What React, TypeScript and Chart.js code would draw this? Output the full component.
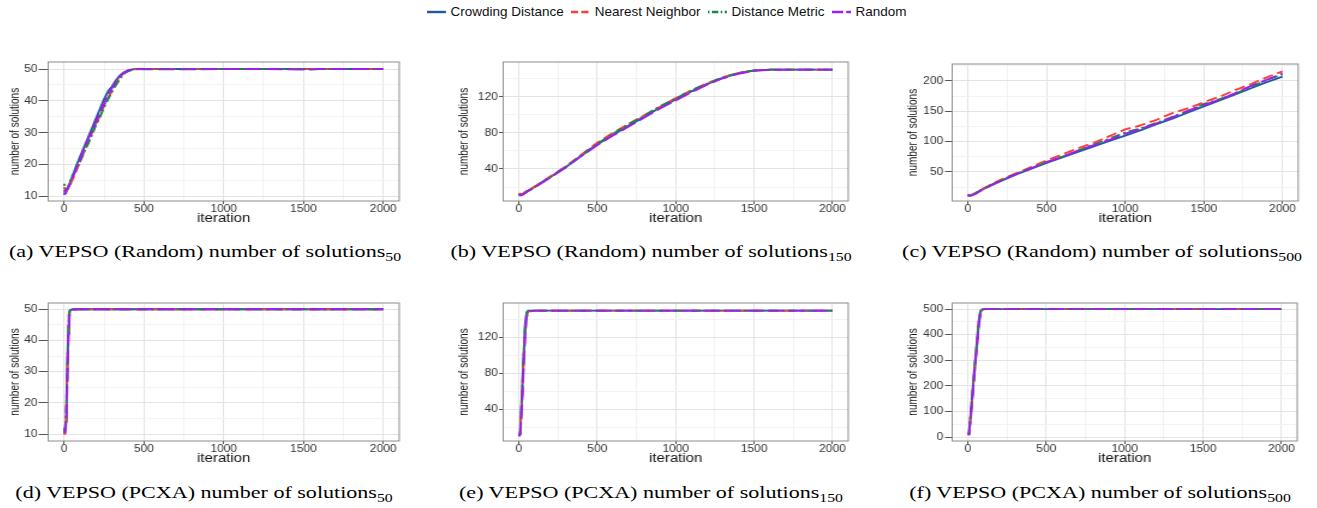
import React, { useEffect, useRef } from 'react';
import { Chart, registerables } from 'chart.js';

Chart.register(...registerables);

const SANS = '"Liberation Sans", Arial, Helvetica, sans-serif';
const SERIF = '"Liberation Serif", "Times New Roman", Times, serif';

// Series shared by every panel
const SERIES_NAMES = ['Crowding Distance', 'Nearest Neighbor', 'Distance Metric', 'Random'];
const SERIES_COLORS = ['#1f5aa0', '#ff3b3b', '#16884a', '#9a20ea'];
const SERIES_DASHES: number[][] = [[], [9, 4], [2, 3, 8, 3], [14, 4]];

// Iteration axis: grid every 250, labels every 500
const ITERATION_TICKS = [0, 250, 500, 750, 1000, 1250, 1500, 1750, 2000];
const ITERATION_LABELS = [0, 500, 1000, 1500, 2000];

// (a) VEPSO (Random), archive of 50
const iterA = [0, 10, 25, 50, 75, 100, 125, 150, 175, 200, 225, 250, 275, 300, 325, 350, 375, 400, 425, 450, 500, 750, 1000, 1250, 1500, 1550, 1600, 1750, 2000];
const cdA = [12, 11, 13, 16, 19.5, 22.5, 25.5, 28.5, 31.5, 34.5, 37.5, 40.5, 43, 44.5, 46.5, 48, 49, 49.6, 49.9, 50, 50, 50, 50, 50, 50, 50, 50, 50, 50];
const nnA = [13, 11.5, 12.5, 15, 18, 21, 24, 27, 30, 32.5, 35.5, 38.5, 41, 43, 45.5, 47.5, 48.8, 49.5, 49.8, 50, 50, 50, 50, 50, 50, 50, 50, 50, 50];
const dmA = [14, 12, 13, 16.5, 18.5, 21, 24, 26.5, 29.5, 32.5, 35, 38, 40.5, 43, 45, 47, 48.5, 49.3, 49.7, 49.9, 50, 50, 50, 50, 50, 50, 50, 50, 50];
const rdA = [10.5, 12, 12.5, 15.5, 18.5, 21.5, 25, 28, 30.5, 33.5, 36.5, 39, 42, 44, 46, 47.8, 48.8, 49.5, 49.8, 50, 49.9, 49.9, 50, 50, 49.8, 49.8, 50, 50, 50];

// (b) VEPSO (Random), archive of 150
const iterB = [0, 10, 25, 50, 100, 200, 300, 400, 500, 600, 700, 800, 900, 1000, 1100, 1200, 1300, 1400, 1500, 1600, 1700, 2000];
const cdB = [12, 11, 12, 15, 20, 31, 42, 55, 67, 78, 88, 98, 108, 117, 126, 134, 141, 146, 149, 150, 150, 150];
const nnB = [13, 12, 12.5, 15.5, 20.5, 31.5, 43, 56, 69, 80, 90, 99.5, 109, 118.5, 127, 135, 141.5, 146.5, 149.3, 150, 150, 150];
const dmB = [12.5, 11.5, 12, 15, 20, 31, 42.5, 55.5, 68, 79, 89.5, 99, 109.5, 118, 127, 134.5, 141.5, 146.5, 149.2, 150, 150, 150];
const rdB = [11.5, 10.5, 11.5, 14.5, 19.5, 30.5, 42, 54.5, 66.5, 77, 87, 97, 107, 116, 125, 133.5, 140.5, 145.5, 148.8, 149.8, 150, 150];

// (c) VEPSO (Random), archive of 500
const iterC = [0, 10, 25, 50, 100, 200, 300, 400, 500, 600, 700, 800, 900, 1000, 1100, 1200, 1300, 1400, 1500, 1600, 1700, 1800, 1900, 2000];
const cdC = [12, 11, 12, 15, 22, 34, 45, 55, 65, 74, 83, 92, 101, 110, 119, 129, 138, 148, 158, 168, 178, 188, 198, 207];
const nnC = [12, 11, 12, 15, 23, 36, 47, 58, 69, 79, 89, 98, 109, 120, 127, 136, 147, 155, 165, 174, 185, 195, 206, 216];
const dmC = [12.5, 11.5, 12, 15, 22.5, 35, 46, 56, 66, 75, 85, 95, 105, 115, 122, 131, 141, 150, 162, 170, 179, 190, 202, 211];
const rdC = [11, 10.5, 11, 14, 22, 34.5, 45.5, 56, 66, 75, 85, 94, 103, 113, 121, 130, 140, 151, 160, 169, 180, 192, 202, 212];

// (d) VEPSO (PCXA), archive of 50
const iterD = [0, 5, 10, 15, 20, 25, 30, 35, 40, 50, 60, 100, 500, 1000, 1500, 2000];
const cdD = [10, 11, 14, 22, 32, 42, 48.5, 49.5, 49.8, 50, 50, 50, 50, 50, 50, 50];
const nnD = [11, 10, 13, 20, 30, 40, 47, 49.3, 49.7, 49.9, 50, 50, 50, 50, 50, 50];
const dmD = [12, 11, 14, 21, 31, 41, 48, 49.4, 49.8, 50, 50, 50, 50, 50, 50, 50];
const rdD = [11.5, 10.5, 12, 18, 27, 37, 45, 48.5, 49.3, 49.7, 49.9, 50, 50, 50, 50, 50];

// (e) VEPSO (PCXA), archive of 150
const iterE = [0, 5, 10, 20, 30, 40, 50, 60, 80, 100, 500, 1000, 1500, 2000];
const cdE = [10, 12, 22, 58, 100, 135, 148, 150, 150, 150, 150, 150, 150, 150];
const nnE = [11, 11, 18, 50, 92, 128, 145, 149, 150, 150, 150, 150, 150, 150];
const dmE = [12, 12, 20, 54, 96, 132, 147, 150, 150, 150, 150, 150, 150, 150];
const rdE = [10.5, 10.5, 16, 45, 86, 123, 143, 148, 149.5, 150, 150, 150, 150, 150];

// (f) VEPSO (PCXA), archive of 500
const iterF = [0, 5, 10, 20, 30, 40, 50, 60, 70, 80, 90, 100, 120, 500, 1000, 1500, 2000];
const cdF = [10, 12, 35, 105, 180, 255, 320, 390, 455, 492, 499, 500, 500, 500, 500, 500, 500];
const nnF = [10, 11, 30, 95, 168, 243, 310, 378, 445, 487, 498, 500, 500, 500, 500, 500, 500];
const dmF = [10, 11.5, 33, 100, 175, 250, 315, 384, 450, 490, 499, 500, 500, 500, 500, 500, 500];
const rdF = [10, 11, 26, 88, 160, 235, 302, 370, 438, 482, 496, 499, 500, 500, 500, 500, 500];

// Y-axis grids (minor + major) and labelled values
const yGrid50 = [10, 15, 20, 25, 30, 35, 40, 45, 50];
const yLab50 = [10, 20, 30, 40, 50];
const yGrid150 = [20, 40, 60, 80, 100, 120, 140];
const yLab150 = [40, 80, 120];
const yGridRandom500 = [25, 50, 75, 100, 125, 150, 175, 200, 225];
const yLabRandom500 = [50, 100, 150, 200];
const yGridPcxa500 = [0, 50, 100, 150, 200, 250, 300, 350, 400, 450, 500];
const yLabPcxa500 = [0, 100, 200, 300, 400, 500];

const CAPTIONS = [
  { tag: '(a)', method: 'Random', size: '50' },
  { tag: '(b)', method: 'Random', size: '150' },
  { tag: '(c)', method: 'Random', size: '500' },
  { tag: '(d)', method: 'PCXA', size: '50' },
  { tag: '(e)', method: 'PCXA', size: '150' },
  { tag: '(f)', method: 'PCXA', size: '500' },
];

// ---------- layout ----------
const STRETCH = 1.2; // plots are widened horizontally
const CAPTION_STRETCH = 1.26;
const TOP_PAD = 12;
const XAXIS_H = 25;
const GRID_MAJOR = '#e4e4e4';
const GRID_MINOR = '#f3f3f3';
const TICK_MARK = '#555555';
const TICK_TEXT = '#333333';

type PanelSpec = {
  left: number; right: number; top: number; bottom: number;
  titleX: number; tickLen: number; tickPad: number;
  yMin: number; yMax: number; yGrid: number[]; yLabels: number[];
  iters: number[]; series: number[][];
};

const PANELS: PanelSpec[] = [
  { left: 48, right: 399, top: 62, bottom: 201, titleX: 15, tickLen: 8, tickPad: 1, yMin: 8.6, yMax: 52.2, yGrid: yGrid50, yLabels: yLab50, iters: iterA, series: [cdA, nnA, dmA, rdA] },
  { left: 503, right: 848, top: 62, bottom: 201, titleX: 464, tickLen: 3.5, tickPad: 1, yMin: 4.5, yMax: 158.5, yGrid: yGrid150, yLabels: yLab150, iters: iterB, series: [cdB, nnB, dmB, rdB] },
  { left: 952, right: 1298, top: 64, bottom: 201, titleX: 913, tickLen: 6, tickPad: 1.5, yMin: 2, yMax: 228, yGrid: yGridRandom500, yLabels: yLabRandom500, iters: iterC, series: [cdC, nnC, dmC, rdC] },
  { left: 48, right: 399, top: 303, bottom: 441, titleX: 15, tickLen: 8, tickPad: 1, yMin: 7.8, yMax: 52, yGrid: yGrid50, yLabels: yLab50, iters: iterD, series: [cdD, nnD, dmD, rdD] },
  { left: 503, right: 848, top: 303, bottom: 441, titleX: 464, tickLen: 3.5, tickPad: 1, yMin: 4.5, yMax: 158.5, yGrid: yGrid150, yLabels: yLab150, iters: iterE, series: [cdE, nnE, dmE, rdE] },
  { left: 952, right: 1297, top: 303, bottom: 441, titleX: 913, tickLen: 6, tickPad: 1.5, yMin: -15, yMax: 524, yGrid: yGridPcxa500, yLabels: yLabPcxa500, iters: iterF, series: [cdF, nnF, dmF, rdF] },
];

const CAPTION_POS = [
  { cx: 204.5, top: 242.5 },
  { cx: 650.5, top: 242.5 },
  { cx: 1101.5, top: 242.5 },
  { cx: 204, top: 483.5 },
  { cx: 651, top: 483.5 },
  { cx: 1100, top: 483.5 },
];

const panelBorder = {
  id: 'panelBorder',
  afterDatasetsDraw(chart: any) {
    const { ctx, chartArea: a } = chart;
    ctx.save();
    ctx.strokeStyle = '#8c8c8c';
    ctx.lineWidth = 1;
    ctx.strokeRect(a.left, a.top, a.right - a.left, a.bottom - a.top);
    ctx.restore();
  },
};

function Panel({ spec }: { spec: PanelSpec }) {
  const ref = useRef<HTMLCanvasElement>(null);
  // the y-axis title centre sits half a line (6 units) from the canvas edge
  const yw = (spec.left - (spec.titleX - 6 * STRETCH)) / STRETCH;
  const pageLeft = spec.left - yw * STRETCH;
  const plotW = (spec.right - spec.left) / STRETCH;
  const width = Math.ceil(yw + plotW + 14);
  const rightPad = width - yw - plotW;
  const height = TOP_PAD + (spec.bottom - spec.top) + XAXIS_H;

  useEffect(() => {
    if (!ref.current) return;
    const isIterLabel = (v: number) => ITERATION_LABELS.includes(v);
    const isYLabel = (v: number) => spec.yLabels.includes(v);
    const chart = new Chart(ref.current, {
      type: 'line',
      data: {
        datasets: spec.series.map((ys, k) => ({
          label: SERIES_NAMES[k],
          data: spec.iters.map((x, i) => ({ x, y: ys[i] })),
          borderColor: SERIES_COLORS[k],
          backgroundColor: SERIES_COLORS[k],
          borderDash: SERIES_DASHES[k],
          borderWidth: 1.9,
          borderJoinStyle: 'round',
          pointRadius: 0,
          fill: false,
          tension: 0,
          order: 3 - k,
        })),
      },
      options: {
        animation: false,
        responsive: false,
        devicePixelRatio: 1,
        events: [],
        layout: { padding: { left: 0, right: rightPad, top: TOP_PAD, bottom: 0 } },
        plugins: { legend: { display: false }, tooltip: { enabled: false } },
        scales: {
          x: {
            type: 'linear',
            min: -100,
            max: 2100,
            afterBuildTicks: (s: any) => { s.ticks = ITERATION_TICKS.map((v) => ({ value: v })); },
            afterFit: (s: any) => { s.height = XAXIS_H; },
            border: { display: false },
            grid: {
              color: (c: any) => (isIterLabel(c.tick?.value) ? GRID_MAJOR : GRID_MINOR),
              tickColor: (c: any) => (isIterLabel(c.tick?.value) ? TICK_MARK : 'rgba(0,0,0,0)'),
              tickLength: 3,
              lineWidth: 1,
            },
            ticks: {
              autoSkip: false,
              maxRotation: 0,
              padding: 0,
              color: TICK_TEXT,
              font: { family: SANS, size: 10, lineHeight: 1 },
              callback: (v: any) => (isIterLabel(v) ? String(v) : ''),
            },
            title: {
              display: true,
              text: 'iteration',
              color: '#111',
              font: { family: SANS, size: 12.5 },
              padding: { top: 0, bottom: 0 },
            },
          },
          y: {
            type: 'linear',
            min: spec.yMin,
            max: spec.yMax,
            afterBuildTicks: (s: any) => { s.ticks = spec.yGrid.map((v) => ({ value: v })); },
            afterFit: (s: any) => { s.width = yw; },
            border: { display: false },
            grid: {
              color: (c: any) => (isYLabel(c.tick?.value) ? GRID_MAJOR : GRID_MINOR),
              tickColor: (c: any) => (isYLabel(c.tick?.value) ? TICK_MARK : 'rgba(0,0,0,0)'),
              tickLength: spec.tickLen,
              lineWidth: 1,
            },
            ticks: {
              autoSkip: false,
              padding: spec.tickPad,
              color: TICK_TEXT,
              font: { family: SANS, size: 10, lineHeight: 1 },
              callback: (v: any) => (isYLabel(v) ? String(v) : ''),
            },
            title: {
              display: true,
              text: 'number of solutions',
              color: '#111',
              font: { family: SANS, size: 10 },
              padding: { top: 0, bottom: 0 },
            },
          },
        },
      },
      plugins: [panelBorder],
    } as any);
    return () => chart.destroy();
  }, []);

  return (
    <div
      style={{
        position: 'absolute',
        left: pageLeft,
        top: spec.top - TOP_PAD,
        width,
        height,
        transform: `scaleX(${STRETCH})`,
        transformOrigin: '0 0',
      }}
    >
      <canvas ref={ref} width={width} height={height} />
    </div>
  );
}

function LegendKey({ index }: { index: number }) {
  const dash = SERIES_DASHES[index].map((d) => d * 0.8).join(' ');
  return (
    <svg width={19} height={6} style={{ display: 'block', marginRight: 5 }}>
      <line
        x1={0}
        y1={3}
        x2={19}
        y2={3}
        stroke={SERIES_COLORS[index]}
        strokeWidth={2.4}
        strokeDasharray={dash || undefined}
      />
    </svg>
  );
}

function Legend() {
  return (
    <div
      style={{
        position: 'absolute',
        left: 666.5,
        top: 4,
        transform: 'translateX(-50%)',
        display: 'flex',
        alignItems: 'center',
        whiteSpace: 'nowrap',
        fontFamily: SANS,
        fontSize: 13.5,
        lineHeight: '15px',
        color: '#111',
      }}
    >
      {SERIES_NAMES.map((name, k) => (
        <div key={name} style={{ display: 'flex', alignItems: 'center', marginRight: k < SERIES_NAMES.length - 1 ? 7 : 0 }}>
          <LegendKey index={k} />
          <span>{name}</span>
        </div>
      ))}
    </div>
  );
}

function Caption({ index }: { index: number }) {
  const c = CAPTIONS[index];
  const p = CAPTION_POS[index];
  return (
    <div
      style={{
        position: 'absolute',
        left: p.cx,
        top: p.top,
        transform: `translateX(-50%) scaleX(${CAPTION_STRETCH})`,
        transformOrigin: '50% 0',
        whiteSpace: 'nowrap',
        fontFamily: SERIF,
        fontSize: 17.5,
        lineHeight: '17.5px',
        color: '#000',
      }}
    >
      {`${c.tag} VEPSO (${c.method}) number of solutions`}
      <span style={{ fontSize: 12.5, position: 'relative', top: 4 }}>{c.size}</span>
    </div>
  );
}

export default function App() {
  return (
    <div
      style={{
        position: 'absolute',
        left: 0,
        top: 0,
        width: 1317,
        height: 508,
        overflow: 'hidden',
        background: '#ffffff',
      }}
    >
      <Legend />
      {PANELS.map((spec, i) => (
        <Panel key={i} spec={spec} />
      ))}
      {CAPTIONS.map((_, i) => (
        <Caption key={i} index={i} />
      ))}
    </div>
  );
}
